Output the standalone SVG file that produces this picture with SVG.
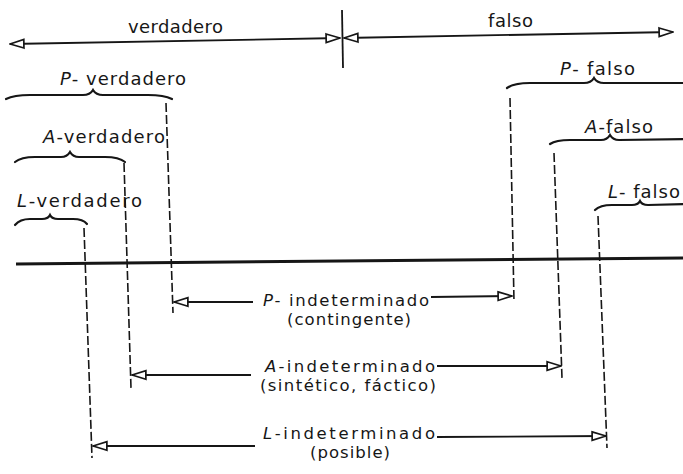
<svg xmlns="http://www.w3.org/2000/svg" width="683" height="474" viewBox="0 0 683 474">
<style>
text{font-family:"DejaVu Sans","Liberation Sans",sans-serif;font-size:18px;fill:#161616}
text.mid{font-size:16.5px}
.it{font-style:italic}
.brace{fill:none;stroke:#161616;stroke-width:2.2;stroke-linecap:round}
.dash{fill:none;stroke:#161616;stroke-width:1.6;stroke-dasharray:9 3}
.ln{fill:none;stroke:#161616;stroke-width:1.8}
.axis{fill:none;stroke:#161616;stroke-width:3}
</style>
<defs>
<marker id="ah" markerUnits="userSpaceOnUse" markerWidth="16" markerHeight="12" viewBox="-1 -1 15 10" refX="13" refY="4" orient="auto-start-reverse">
<path d="M0,0 L13,4 L0,8 Z" fill="#fff" stroke="#161616" stroke-width="1.6"/>
</marker>
</defs>
<rect width="683" height="474" fill="#fff"/>

<g id="connectors">
<path class="ln" d="M10,44 L340,38" marker-start="url(#ah)" marker-end="url(#ah)"/>
<path class="ln" d="M344,38 L673,32" marker-start="url(#ah)" marker-end="url(#ah)"/>
<path class="ln" d="M342,10 L343,68"/>
<path class="axis" d="M16,264 L683,258"/>
<path class="dash" d="M166,103 L173,313"/>
<path class="dash" d="M124,163 L131,388"/>
<path class="dash" d="M84,228 L92,458"/>
<path class="dash" d="M510,98 L514,302"/>
<path class="dash" d="M554,153 L562,378"/>
<path class="dash" d="M598,216 L607,448"/>
<path class="ln" d="M253,302 L174,302" marker-end="url(#ah)"/>
<path class="ln" d="M431,297 L512,296" marker-end="url(#ah)"/>
<path class="ln" d="M251,375 L132,375" marker-end="url(#ah)"/>
<path class="ln" d="M437,366 L561,366" marker-end="url(#ah)"/>
<path class="ln" d="M255,446 L93,446" marker-end="url(#ah)"/>
<path class="ln" d="M437,437 L606,436" marker-end="url(#ah)"/>
</g>

<g id="verdadero"><text x="128" y="33" textLength="95" lengthAdjust="spacing">verdadero</text></g>
<g id="falso"><text x="488" y="27" textLength="45" lengthAdjust="spacing">falso</text></g>

<g id="p-verdadero">
<text x="60" y="85" textLength="126" lengthAdjust="spacing"><tspan class="it">P</tspan>- verdadero</text>
<path class="brace" d="M6,99 Q14,95 30,95 L83,95 Q90,95 93,90 Q96,95 103,95 L148,95 Q164,95 172,99"/>
</g>
<g id="a-verdadero">
<text x="43" y="143" textLength="122" lengthAdjust="spacing"><tspan class="it">A</tspan>-verdadero</text>
<path class="brace" d="M15,162 Q21,157 35,157 L61,157 Q67,157 70,152 Q73,157 79,157 L105,157 Q119,157 125,162"/>
</g>
<g id="l-verdadero">
<text x="17" y="207" textLength="125" lengthAdjust="spacing"><tspan class="it">L</tspan>-verdadero</text>
<path class="brace" d="M15,225 Q20,219 30,219 L42,219 Q48,219 50,215 Q52,219 58,219 L73,219 Q83,219 87,224"/>
</g>
<g id="p-falso">
<text x="560" y="75" textLength="75" lengthAdjust="spacing"><tspan class="it">P</tspan>- falso</text>
<path class="brace" d="M507,88 Q514,83 530,83 L584,83 Q591,83 594,78 Q597,83 604,83 L690,83"/>
</g>
<g id="a-falso">
<text x="585" y="133" textLength="68" lengthAdjust="spacing"><tspan class="it">A</tspan>-falso</text>
<path class="brace" d="M550,144 Q556,140 570,140 L601,140 Q607,140 610,135 Q613,140 619,140 L690,139"/>
</g>
<g id="l-falso">
<text x="608" y="198" textLength="72" lengthAdjust="spacing"><tspan class="it">L</tspan>- falso</text>
<path class="brace" d="M595,210 Q600,205 612,205 L632,205 Q638,205 640,201 Q642,205 648,205 L690,204"/>
</g>

<g id="p-indeterminado">
<text class="mid" x="263" y="306" textLength="166" lengthAdjust="spacing"><tspan class="it">P</tspan>- indeterminado</text>
<text class="mid" x="287" y="325" textLength="124" lengthAdjust="spacing">(contingente)</text>
</g>
<g id="a-indeterminado">
<text class="mid" x="265" y="372" textLength="170" lengthAdjust="spacing"><tspan class="it">A</tspan>-indeterminado</text>
<text class="mid" x="260" y="391" textLength="176" lengthAdjust="spacing">(sintético, fáctico)</text>
</g>
<g id="l-indeterminado">
<text class="mid" x="263" y="439" textLength="172" lengthAdjust="spacing"><tspan class="it">L</tspan>-indeterminado</text>
<text class="mid" x="310" y="458" textLength="80" lengthAdjust="spacing">(posible)</text>
</g>
</svg>
